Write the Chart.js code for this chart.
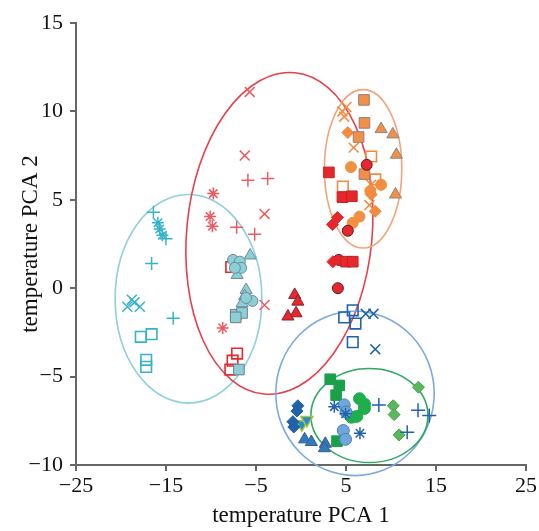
<!DOCTYPE html>
<html>
<head>
<meta charset="utf-8">
<script src="https://cdn.jsdelivr.net/npm/chart.js@4"></script>
<style>
  html, body { margin: 0; padding: 0; background: #fff; }
  #pca { display: block; }
</style>
</head>
<body>
<canvas id="pca" width="539" height="531"></canvas>
<script>
// points, [PCA 1, PCA 2]
const cyanPlus = [[-16.4, 4.3], [-16.6, 1.4], [-14.2, -1.7], [-15.0, 2.8]];
const cyanStar = [[-15.9, 3.7], [-15.7, 3.35], [-15.4, 3.0]];
const cyanX = [[-19.3, -1.05], [-18.8, -0.65], [-18.5, -0.8], [-17.9, -1.05]];
const cyanOpenSquare = [[-17.8, -2.75], [-16.6, -2.6], [-17.2, -4.05], [-17.2, -4.45]];

const tealCircle = [[-7.55, 1.6], [-6.8, 1.5], [-6.65, 1.15], [-7.35, 1.15], [-5.4, -0.72], [-6.1, -0.55]];
const tealTriangle = [[-5.65, 1.85], [-7.1, 0.75], [-6.1, -0.1], [-6.25, -0.45], [-6.55, -0.85]];
const tealSquare = [[-7.25, -1.5], [-6.55, -1.4], [-7.25, -1.65], [-6.9, -4.6]];

const redX = [[-5.7, 11.1], [-6.25, 7.5], [-4.05, 4.2], [-4.05, -0.95]];
const redPlus = [[-5.9, 6.1], [-3.7, 6.2], [-7.15, 3.45], [-5.15, 3.05]];
const redStar = [[-9.75, 5.35], [-10.1, 4.05], [-9.85, 3.5], [-8.7, -2.25]];
const redOpenSquare = [[-7.75, 1.2], [-7.1, -3.7], [-7.6, -4.1], [-7.85, -4.6]];
const redTriangle = [[-0.7, -0.38], [-0.35, -0.76], [-0.55, -1.42], [-1.45, -1.6]];
const redSquare = [[3.1, 6.55], [4.6, 5.15], [5.65, 5.2], [5.0, 1.5], [5.75, 1.5]];
const redDiamond = [[3.5, 3.6], [4.05, 4.0], [3.55, 1.5]];
const redCircle = [[5.2, 3.25], [7.3, 6.98], [4.1, 0.0], [4.2, 1.6]];

const orangeX = [[4.6, 10.0], [5.05, 10.25], [4.8, 9.7], [5.85, 7.95], [7.8, 5.85], [7.6, 4.7]];
const orangeSquare = [[7.0, 10.65], [7.05, 9.35], [6.4, 8.55], [7.05, 6.45]];
const orangeOpenSquare = [[7.8, 7.45], [4.65, 5.75], [8.25, 6.15]];
const orangeDiamond = [[5.2, 8.8], [7.8, 5.3], [8.25, 4.35]];
const orangeCircle = [[5.55, 6.85], [8.9, 5.85], [5.75, 3.7], [6.5, 4.05], [7.7, 5.5]];
const orangeTriangle = [[8.9, 9.0], [10.2, 8.7], [10.6, 7.55], [10.5, 5.3]];

const blueOpenSquare = [[5.75, -1.25], [4.8, -1.65], [6.05, -2.0], [5.75, -3.05]];
const blueX = [[7.2, -1.45], [8.05, -1.45], [8.25, -3.45]];
const blueStar = [[3.7, -6.7], [4.95, -7.1], [6.55, -8.2]];
const bluePlus = [[8.65, -6.6], [13.0, -6.9], [14.25, -7.2], [11.8, -8.15]];
const blueDiamond = [[-0.35, -6.65], [-0.45, -6.95], [-0.9, -7.55], [-0.8, -7.85]];
const blueTriangle = [[0.4, -8.55], [1.15, -8.7], [2.7, -8.8], [2.6, -9.05]];
const blueDownTriangle = [[0.1, -7.7], [0.65, -7.45]];
const lightBlueCircle = [[4.8, -6.6], [5.0, -7.0], [4.7, -8.05], [4.95, -8.55]];

const greenSquare = [[3.25, -5.15], [4.25, -5.5], [3.9, -6.05], [4.0, -8.65]];
const greenCircle = [[6.5, -6.25], [7.05, -6.55], [7.05, -6.8], [6.2, -7.25], [5.6, -7.3]];
const greenDiamond = [[13.05, -5.6], [10.25, -6.65], [10.35, -7.15], [10.9, -8.3]];

// group ellipses: centre, half-widths (axis units), tilt in degrees
const ellipseCentreX = [-12.5, -2.4, 6.9, 6.0, 7.6];
const ellipseCentreY = [-0.6, 3.1, 6.75, -5.95, -7.2];
const ellipseHalfX = [8.15, 10.3, 4.3, 8.8, 6.5];
const ellipseHalfY = [5.9, 9.13, 4.48, 4.65, 2.66];
const ellipseTilt = [0, 5.5, 0, 0, 0];
const ellipseColors = ['#8fd0dc', '#e8404a', '#f2a57a', '#7eaadb', '#2fa862'];

const xTickValues = [-25, -15, -5, 5, 15, 25];
const yTickValues = [-10, -5, 0, 5, 10, 15];

const serif = "'Liberation Serif', 'Times New Roman', serif";

const cyan = '#37b3c8';
const lightRed = '#ef5a60';
const red = '#e6272c';
const orange = '#f28b3e';
const blue = '#1f63ad';
const green = '#1aa049';

function series(label, pts, style) {
  return Object.assign({
    label: label,
    data: pts.map(p => ({ x: p[0], y: p[1] })),
    showLine: false,
    pointHoverRadius: style.pointRadius
  }, style);
}

function line(label, pts, shape, color, r) {
  return series(label, pts, {
    pointStyle: shape, pointRadius: r,
    pointBorderColor: color, pointBackgroundColor: color, pointBorderWidth: 1.5
  });
}
function open(label, pts, color) {
  return series(label, pts, {
    pointStyle: 'rect', pointRadius: 7.5,
    pointBorderColor: color, pointBackgroundColor: 'rgba(255,255,255,0)', pointBorderWidth: 1.6
  });
}
function filled(label, pts, shape, fill, edge, r) {
  return series(label, pts, {
    pointStyle: shape, pointRadius: r,
    pointBorderColor: edge, pointBackgroundColor: fill, pointBorderWidth: 1
  });
}

const datasets = [
  line('cyan +', cyanPlus, 'cross', cyan, 6.5),
  line('cyan *', cyanStar, 'star', cyan, 6),
  line('cyan x', cyanX, 'crossRot', cyan, 7),
  open('cyan sq', cyanOpenSquare, cyan),
  filled('teal circle', tealCircle, 'circle', '#8ccfd7', '#6d8b99', 5.5),
  filled('teal tri', tealTriangle, 'triangle', '#8ccfd7', '#6d8b99', 7),
  filled('teal sq', tealSquare, 'rect', '#8ccfd7', '#6d7f90', 7.5),

  line('red x', redX, 'crossRot', lightRed, 7),
  line('red +', redPlus, 'cross', lightRed, 6.5),
  line('red *', redStar, 'star', lightRed, 6),
  open('red sq', redOpenSquare, red),
  filled('red tri', redTriangle, 'triangle', red, '#8a2335', 7),
  filled('red sq filled', redSquare, 'rect', red, '#c02428', 7.5),
  filled('red diamond', redDiamond, 'rectRot', red, red, 6),
  filled('red circle', redCircle, 'circle', red, '#5b1b2e', 5.5),

  line('orange x', orangeX, 'crossRot', orange, 7),
  filled('orange sq', orangeSquare, 'rect', '#f0904c', '#9b7d70', 7.5),
  open('orange open sq', orangeOpenSquare, orange),
  filled('orange diamond', orangeDiamond, 'rectRot', orange, orange, 6),
  filled('orange circle', orangeCircle, 'circle', '#f09040', '#f09040', 5.5),
  filled('orange tri', orangeTriangle, 'triangle', '#f0904c', '#8c8580', 7),

  open('blue sq', blueOpenSquare, blue),
  line('blue x', blueX, 'crossRot', blue, 7),
  line('blue *', blueStar, 'star', blue, 6),
  line('blue +', bluePlus, 'cross', blue, 7),
  filled('blue diamond', blueDiamond, 'rectRot', blue, '#2b5a95', 6),
  filled('blue tri', blueTriangle, 'triangle', '#2a7cc0', '#4b5888', 7),
  series('blue down tri', blueDownTriangle, {
    pointStyle: 'triangle', rotation: 180, pointRadius: 7,
    pointBorderColor: '#a9c63c', pointBackgroundColor: '#2a8ad0', pointBorderWidth: 1.5
  }),
  filled('light blue circle', lightBlueCircle, 'circle', '#6fa7dd', '#4a7fb8', 6),

  filled('green sq', greenSquare, 'rect', green, green, 7.5),
  filled('green circle', greenCircle, 'circle', '#1fae4d', '#1fae4d', 6),
  filled('green diamond', greenDiamond, 'rectRot', '#5cb85c', '#4aa04a', 6)
];

const ellipsePlugin = {
  id: 'ellipses',
  beforeDatasetsDraw(chart) {
    const { ctx } = chart;
    const xs = chart.scales.x, ys = chart.scales.y;
    ctx.save();
    ellipseCentreX.forEach((cx, i) => {
      const cy = ellipseCentreY[i];
      const px = xs.getPixelForValue(cx);
      const py = ys.getPixelForValue(cy);
      const rx = Math.abs(xs.getPixelForValue(cx + ellipseHalfX[i]) - px);
      const ry = Math.abs(ys.getPixelForValue(cy + ellipseHalfY[i]) - py);
      ctx.beginPath();
      ctx.ellipse(px, py, rx, ry, ellipseTilt[i] * Math.PI / 180, 0, Math.PI * 2);
      ctx.strokeStyle = ellipseColors[i];
      ctx.lineWidth = 1.6;
      ctx.stroke();
    });
    ctx.restore();
  }
};

const minus = v => (v < 0 ? '\u2212' + Math.abs(v) : String(v));

new Chart(document.getElementById('pca'), {
  type: 'scatter',
  data: { datasets: datasets },
  options: {
    responsive: false,
    animation: false,
    layout: { padding: { top: 23, right: 12, left: 0, bottom: 0 } },
    plugins: {
      legend: { display: false },
      tooltip: { enabled: false }
    },
    scales: {
      x: {
        type: 'linear',
        min: -25,
        max: 25,
        afterBuildTicks: s => { s.ticks = xTickValues.map(v => ({ value: v })); },
        afterFit: s => { s.height = 66; },
        ticks: { callback: minus, color: '#111', font: { family: serif, size: 22 }, padding: 2, maxRotation: 0 },
        grid: { drawOnChartArea: false, drawTicks: true, tickLength: 6, color: '#666', lineWidth: 2 },
        border: { display: true, color: '#666', width: 2 },
        title: { display: true, text: 'temperature PCA 1', color: '#111', font: { family: serif, size: 23 }, padding: { top: 0, bottom: 1 } }
      },
      y: {
        type: 'linear',
        min: -10,
        max: 15,
        afterBuildTicks: s => { s.ticks = yTickValues.map(v => ({ value: v })); },
        afterFit: s => { s.width = 76; },
        ticks: { callback: minus, color: '#111', font: { family: serif, size: 22 }, padding: 7 },
        grid: { drawOnChartArea: false, drawTicks: true, tickLength: 6, color: '#666', lineWidth: 2 },
        border: { display: true, color: '#666', width: 2 },
        title: { display: true, text: 'temperature PCA 2', color: '#111', font: { family: serif, size: 23 }, padding: { top: 17, bottom: 0 } }
      }
    }
  },
  plugins: [ellipsePlugin]
});
</script>
</body>
</html>
